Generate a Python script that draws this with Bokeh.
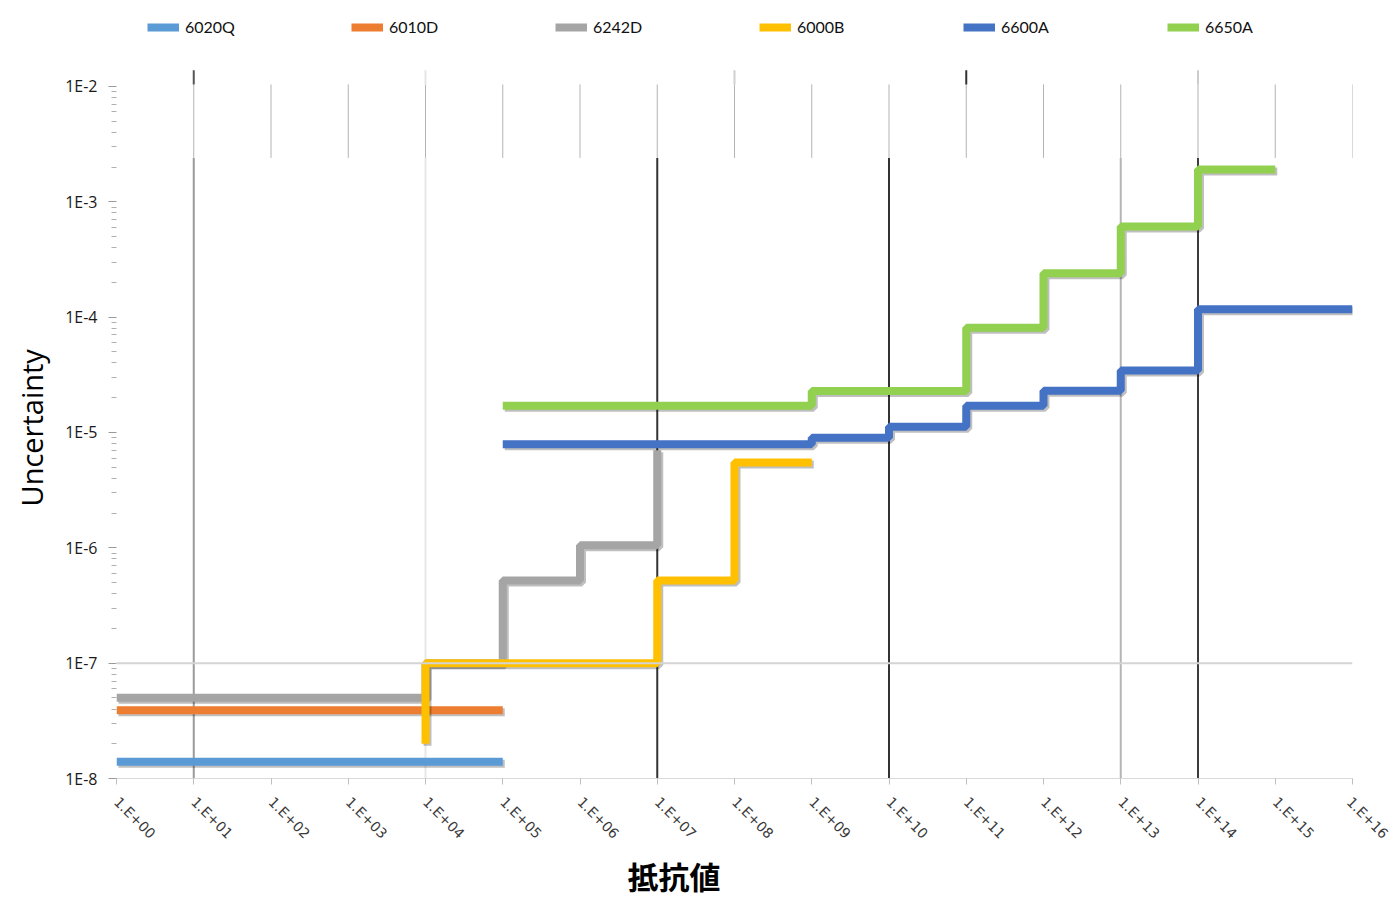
import math
from bokeh.plotting import figure
from bokeh.models import Range1d, FixedTicker, Legend, LegendItem, Title, Span
from bokeh.embed import file_html
from bokeh.resources import INLINE

# ---------------- data ----------------
series_names = ["6020Q", "6010D", "6242D", "6000B", "6600A", "6650A"]
series_colors = ["#5B9BD5", "#ED7D31", "#A5A5A5", "#FFC000", "#4472C4", "#92D050"]

# step corner points: resistance (ohm) and uncertainty level (step "after")
q6020_x = [1e0, 1e5]
q6020_y = [1.4e-8, 1.4e-8]
d6010_x = [1e0, 1e5]
d6010_y = [3.9e-8, 3.9e-8]
d6242_x = [1e0, 1e4, 1e5, 1e6, 1e7]
d6242_y = [5.0e-8, 1.0e-7, 5.2e-7, 1.05e-6, 7.0e-6]
b6000_x = [1e4, 1e4, 1e7, 1e8, 1e9]
b6000_y = [2.0e-8, 1.0e-7, 5.2e-7, 5.5e-6, 5.5e-6]
a6600_x = [1e5, 1e9, 1e10, 1e11, 1e12, 1e13, 1e14, 1e16]
a6600_y = [7.9e-6, 9.0e-6, 1.12e-5, 1.7e-5, 2.3e-5, 3.45e-5, 1.17e-4, 1.17e-4]
a6650_x = [1e5, 1e9, 1e11, 1e12, 1e13, 1e14, 1e15]
a6650_y = [1.7e-5, 2.29e-5, 8.1e-5, 2.4e-4, 6.1e-4, 1.9e-3, 1.9e-3]

series_x = [q6020_x, d6010_x, d6242_x, b6000_x, a6600_x, a6650_x]
series_y = [q6020_y, d6010_y, d6242_y, b6000_y, a6600_y, a6650_y]

x_ticks = [1e0, 1e1, 1e2, 1e3, 1e4, 1e5, 1e6, 1e7, 1e8, 1e9, 1e10, 1e11, 1e12,
           1e13, 1e14, 1e15, 1e16]
x_tick_labels = ["1.E+00", "1.E+01", "1.E+02", "1.E+03", "1.E+04", "1.E+05",
                 "1.E+06", "1.E+07", "1.E+08", "1.E+09", "1.E+10", "1.E+11",
                 "1.E+12", "1.E+13", "1.E+14", "1.E+15", "1.E+16"]
y_ticks = [1e-8, 1e-7, 1e-6, 1e-5, 1e-4, 1e-3, 1e-2]
y_tick_labels = ["1E-8", "1E-7", "1E-6", "1E-5", "1E-4", "1E-3", "1E-2"]

x_title = "抵抗値"
y_title = "Uncertainty"

# ---------------- figure ----------------
# the frame reaches the top edge (legend sits inside it); 115.5 px per y decade
PX_DEC_Y = 115.5
y_top = 1e-8 * 10 ** (779 / PX_DEC_Y)

p = figure(width=1391, height=897, x_axis_type="log", y_axis_type="log",
           x_range=Range1d(1, 1e16), y_range=Range1d(1e-8, y_top),
           output_backend="svg", toolbar_location=None,
           min_border_left=116, min_border_right=39, min_border_top=0,
           min_border_bottom=118)
p.outline_line_color = None
p.xgrid.grid_line_color = None
p.ygrid.grid_line_color = None
p.background_fill_color = "white"
p.border_fill_color = "white"

# grid decorations
top_grid_x = x_ticks[1:]
p.segment(x0=top_grid_x, y0=[2.4e-3] * len(top_grid_x), x1=top_grid_x,
          y1=[1.04e-2] * len(top_grid_x), line_color="#b3b3b3", line_width=1)
full_grid_x = [1e1, 1e4, 1e7, 1e10, 1e13, 1e14]
full_grid_c = ["#9a9a9a", "#e8e8e8", "#333333", "#333333", "#b5b5b5", "#3c3c3c"]
p.segment(x0=full_grid_x, y0=[1e-8] * 6, x1=full_grid_x, y1=[2.4e-3] * 6,
          line_color=full_grid_c, line_width=2)
stub_x = [1e1, 1e4, 1e8, 1e11, 1e14]
stub_c = ["#555555", "#e6e6e6", "#d0d0d0", "#333333", "#cccccc"]
p.segment(x0=stub_x, y0=[1.04e-2] * 5, x1=stub_x, y1=[1.38e-2] * 5,
          line_color=stub_c, line_width=2)
p.add_layout(Span(location=1e-7, dimension="width", line_color="#d4d4d4", line_width=2))

# shadow offsets (approx 2px right / 2px down on the log scales)
fx = 10 ** (2.0 / 77.25)
fy = 10 ** (-2.0 / PX_DEC_Y)

items = []
for name, col, xs, ys in zip(series_names, series_colors, series_x, series_y):
    p.step([v * fx for v in xs], [v * fy for v in ys], mode="after",
           line_color="black", line_alpha=0.25, line_width=8)
    r = p.step(xs, ys, mode="after", line_color=col, line_width=8)
    items.append(LegendItem(label=name, renderers=[r]))

legend = Legend(items=items, location=(31, 779 - 37), orientation="horizontal",
                glyph_width=32, glyph_height=10, label_standoff=6,
                label_width=166, spacing=0, padding=0, margin=0,
                border_line_alpha=0, background_fill_alpha=0,
                label_text_font_size="16px", label_text_color="#111111",
                label_text_font="Lato", label_text_baseline="bottom")
p.add_layout(legend, "center")

# x axis
xa = p.xaxis[0]
xa.ticker = FixedTicker(ticks=x_ticks, minor_ticks=[])
xa.major_label_overrides = dict(zip(x_ticks, x_tick_labels))
xa.major_label_orientation = -math.pi / 4
xa.major_label_text_font_size = "14px"
xa.major_label_text_color = "#3a3a3a"
xa.major_label_text_font = "DejaVu Sans"
xa.major_label_standoff = 15
xa.axis_line_color = "#d9d9d9"
xa.axis_line_width = 1
xa.major_tick_line_color = "#bfbfbf"
xa.major_tick_in = 0
xa.major_tick_out = 6

# y axis
ya = p.yaxis[0]
y_minor = [k * t for t in y_ticks[:-1] for k in range(2, 10)]
ya.ticker = FixedTicker(ticks=y_ticks, minor_ticks=y_minor)
ya.major_label_overrides = dict(zip(y_ticks, y_tick_labels))
ya.major_label_text_font_size = "16px"
ya.major_label_text_color = "#1a1a1a"
ya.major_label_text_font = "Open Sans"
ya.major_label_standoff = 11
ya.axis_line_color = None
ya.major_tick_line_color = "#9a9a9a"
ya.major_tick_in = 0
ya.major_tick_out = 8
ya.minor_tick_line_color = "#b0b0b0"
ya.minor_tick_in = 0
ya.minor_tick_out = 5

p.add_layout(Title(text=y_title, align="left", offset=272,
                   text_font="Open Sans", text_font_size="29px",
                   text_font_style="normal", text_color="#000000",
                   vertical_align="top", standoff=20), "left")

p.add_layout(Title(text=x_title, align="left", offset=511,
                   text_font="Noto Sans CJK JP", text_font_size="31px",
                   text_font_style="bold", text_color="#000000",
                   standoff=0), "below")

open("out.html", "w").write(file_html(p, INLINE))
